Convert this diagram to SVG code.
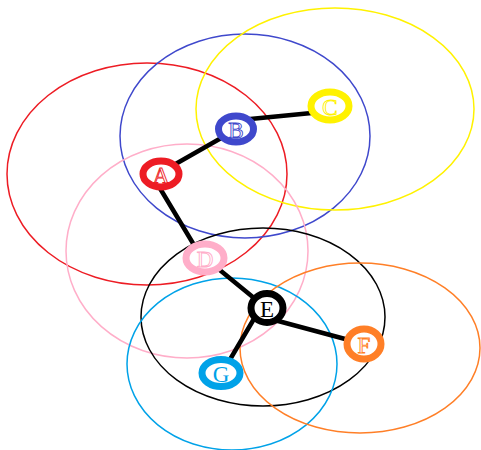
<svg xmlns="http://www.w3.org/2000/svg" width="481" height="450" viewBox="0 0 481 450">
<style>
.rng{fill:none;stroke-width:1.5}
.edge{stroke:#000;stroke-width:4.5;stroke-linecap:round}
.node{fill:#fff;stroke-width:7}
.lbl{font-family:"Liberation Serif","Times New Roman",serif;font-size:23px;text-anchor:middle;dominant-baseline:central}
.hol{fill:#fff;stroke-width:0.9}
</style>
<rect width="481" height="450" fill="#fff"/>
<g id="ranges">
<ellipse class="rng" cx="147" cy="174" rx="140" ry="111" stroke="#ed1c24"/>
<ellipse class="rng" cx="245" cy="136" rx="125" ry="102" stroke="#3f48cc"/>
<ellipse class="rng" cx="335" cy="109" rx="139" ry="101" stroke="#fff200"/>
<ellipse class="rng" cx="187" cy="251" rx="121" ry="107" stroke="#ffaec9"/>
<ellipse class="rng" cx="263" cy="317" rx="122" ry="89" stroke="#000"/>
<ellipse class="rng" cx="232" cy="364" rx="105" ry="86" stroke="#00a2e8"/>
<ellipse class="rng" cx="360" cy="348" rx="120" ry="85" stroke="#ff7f27"/>
</g>
<g id="connectors">
<line class="edge" x1="165" y1="170" x2="230" y2="133"/>
<line class="edge" x1="240" y1="120" x2="322" y2="112"/>
<line class="edge" x1="158" y1="185" x2="200" y2="255"/>
<line class="edge" x1="210" y1="262" x2="265" y2="307"/>
<line class="edge" x1="267" y1="318" x2="360" y2="343"/>
<line class="edge" x1="258" y1="312" x2="225" y2="368"/>
</g>
<g id="node-A"><ellipse class="node" cx="161" cy="174" rx="18" ry="13" stroke="#ed1c24"/><text class="lbl hol" x="161" y="175" stroke="#ed1c24">A</text></g>
<g id="node-B"><ellipse class="node" cx="236" cy="129" rx="17.5" ry="13" stroke="#3f48cc"/><text class="lbl hol" x="236" y="130" stroke="#3f48cc">B</text></g>
<g id="node-C"><ellipse class="node" cx="330" cy="106" rx="19" ry="14" stroke="#fff200"/><text class="lbl hol" x="330" y="107" stroke="#fff200">C</text></g>
<g id="node-D"><ellipse class="node" cx="205" cy="258" rx="19" ry="14" stroke="#ffaec9"/><text class="lbl hol" x="205" y="259" stroke="#ffaec9">D</text></g>
<g id="node-E"><ellipse class="node" cx="267" cy="308" rx="16" ry="14.5" stroke="#000"/><text class="lbl" x="267" y="309" fill="#000">E</text></g>
<g id="node-F"><ellipse class="node" cx="364" cy="344" rx="17" ry="15" stroke="#ff7f27"/><text class="lbl hol" x="364" y="345" stroke="#ff7f27">F</text></g>
<g id="node-G"><ellipse class="node" cx="221" cy="373" rx="19" ry="13.5" stroke="#00a2e8"/><text class="lbl" x="221" y="374" fill="#00a2e8">G</text></g>
</svg>
